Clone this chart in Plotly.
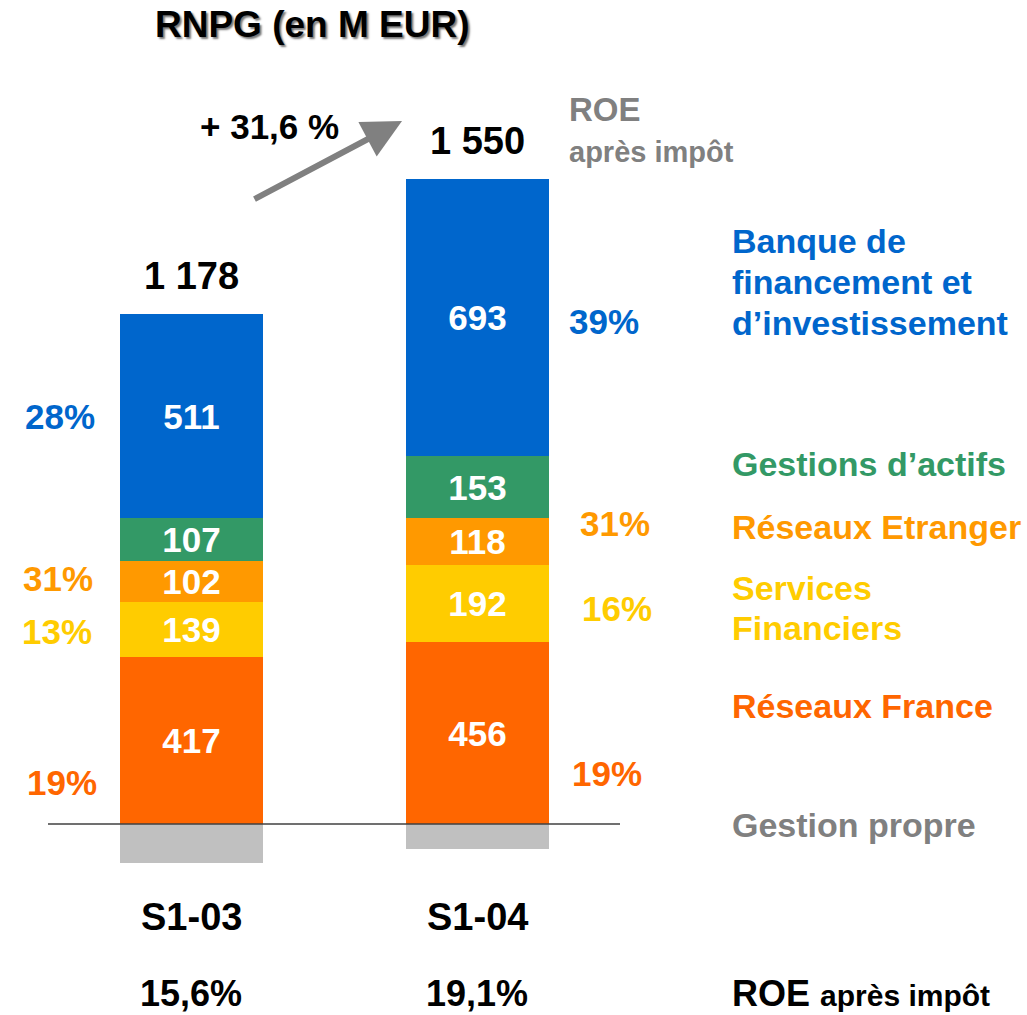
import plotly.graph_objects as go

categories = ["S1-03", "S1-04"]
reseaux_france = [417, 456]
services_financiers = [139, 192]
reseaux_etranger = [102, 118]
gestions_actifs = [107, 153]
bfi = [511, 693]
gestion_propre = [-98, -62]
totals = ["1 178", "1 550"]
roe = ["15,6%", "19,1%"]
growth = "+ 31,6 %"
pct_left = {"bfi": "28%", "etr": "31%", "sf": "13%", "fr": "19%"}
pct_right = {"bfi": "39%", "etr": "31%", "sf": "16%", "fr": "19%"}

W, H = 1027, 1015
FONT = "Liberation Sans, Arial, sans-serif"
BLUE = "#0066CC"
GREEN = "#339966"
ORANGE = "#FF9900"
YELLOW = "#FFCC00"
RED = "#FF6600"
GRAY_BAR = "#C0C0C0"
GRAY_TXT = "#808080"

# pixel mapping: x=0 -> 191px, x=1 -> 477px ; y=0 -> 824px, 0.4 px per unit
PXU = 286.0
x0px = 191.0
YPX = 0.4
y0px = 824.0
xrange = [-x0px / PXU, (W - x0px) / PXU]
yrange = [-(H - y0px) / YPX, y0px / YPX]

xs = [0, 1]
fig = go.Figure()

series = [
    ("Gestion propre", gestion_propre, GRAY_BAR, False),
    ("Réseaux France", reseaux_france, RED, True),
    ("Services Financiers", services_financiers, YELLOW, True),
    ("Réseaux Etranger", reseaux_etranger, ORANGE, True),
    ("Gestions d'actifs", gestions_actifs, GREEN, True),
    ("BFI", bfi, BLUE, True),
]
for name, vals, col, show in series:
    fig.add_trace(go.Bar(
        x=xs, y=vals, name=name, width=0.5,
        marker=dict(color=col, line=dict(width=0)),
        text=[str(v) for v in vals] if show else None,
        textposition="inside" if show else "none",
        insidetextanchor="middle",
        constraintext="none",
        textangle=0,
        textfont=dict(color="white", size=35, family=FONT, weight="bold"),
        hoverinfo="skip",
    ))


def P(px, py):
    return px / W, 1 - py / H


def ann(text, px, py, color="black", size=34, xanchor="center", **kw):
    x, y = P(px, py)
    fig.add_annotation(x=x, y=y, xref="paper", yref="paper", text=text,
                       showarrow=False, xanchor=xanchor, yanchor="middle",
                       font=dict(color=color, size=size, family=FONT, weight="bold", **kw))


# title
ann("RNPG (en M EUR)", 312, 25, size=37, shadow="2px 2px 2px #777777")

# totals above bars
pos_top = [reseaux_france[i] + services_financiers[i] + reseaux_etranger[i] + gestions_actifs[i] + bfi[i] for i in range(2)]
for i in range(2):
    fig.add_annotation(x=xs[i], y=pos_top[i], text=totals[i], showarrow=False,
                       yanchor="bottom", yshift=15,
                       font=dict(color="black", size=38, family=FONT, weight="bold"))

# growth
ann(growth, 269, 127, size=35)
hx, hy = P(402, 121)
fig.add_annotation(x=hx, y=hy, xref="paper", yref="paper", text="", showarrow=True,
                   ax=253 - 402, ay=200 - 121, arrowcolor="#808080", arrowwidth=6,
                   arrowhead=2, arrowsize=1.3, standoff=0)

# ROE header
ann("ROE", 567, 110, color=GRAY_TXT, size=33, xanchor="left")
ann("après impôt", 567, 152, color=GRAY_TXT, size=29, xanchor="left")

# right-side segment names
LS = 34
ann("Banque de", 730, 241, color=BLUE, size=LS, xanchor="left")
ann("financement et", 730, 282, color=BLUE, size=LS, xanchor="left")
ann("d’investissement", 730, 323, color=BLUE, size=LS, xanchor="left")
ann("Gestions d’actifs", 730, 464, color=GREEN, size=LS, xanchor="left")
ann("Réseaux Etranger", 730, 527, color=ORANGE, size=LS, xanchor="left")
ann("Services", 730, 588, color=YELLOW, size=LS, xanchor="left")
ann("Financiers", 730, 628, color=YELLOW, size=LS, xanchor="left")
ann("Réseaux France", 730, 706, color=RED, size=LS, xanchor="left")
ann("Gestion propre", 730, 825, color=GRAY_TXT, size=LS, xanchor="left")

# percentages
PS = 35
ann(pct_left["bfi"], 60, 417, color=BLUE, size=PS)
ann(pct_left["etr"], 58, 578, color=ORANGE, size=PS)
ann(pct_left["sf"], 57, 631, color=YELLOW, size=PS)
ann(pct_left["fr"], 62, 782, color=RED, size=PS)
ann(pct_right["bfi"], 604, 321, color=BLUE, size=PS)
ann(pct_right["etr"], 615, 523, color=ORANGE, size=PS)
ann(pct_right["sf"], 617, 608, color=YELLOW, size=PS)
ann(pct_right["fr"], 607, 773, color=RED, size=PS)

# category labels and ROE values
for i, px in enumerate([191, 477]):
    ann(categories[i], px, 917, size=38)
    ann(roe[i], px, 993, size=36)
x, y = P(730, 993)
fig.add_annotation(x=x, y=y, xref="paper", yref="paper", showarrow=False,
                   xanchor="left", yanchor="middle",
                   text="ROE <span style='font-size:30px'>après impôt</span>",
                   font=dict(color="black", size=36, family=FONT, weight="bold"))

# baseline
fig.add_shape(type="line", xref="paper", yref="y", x0=48 / W, x1=620 / W, y0=0, y1=0,
              line=dict(color="#404040", width=1.5), layer="above")

fig.update_layout(
    width=W, height=H, barmode="relative", showlegend=False,
    margin=dict(l=0, r=0, t=0, b=0),
    paper_bgcolor="white", plot_bgcolor="white",
    xaxis=dict(range=xrange, visible=False, fixedrange=True),
    yaxis=dict(range=yrange, visible=False, fixedrange=True),
    bargap=0,
)

fig.write_html("out.html", config={"displayModeBar": False},
               post_script="document.body.style.margin='0';document.body.style.overflow='hidden';")
